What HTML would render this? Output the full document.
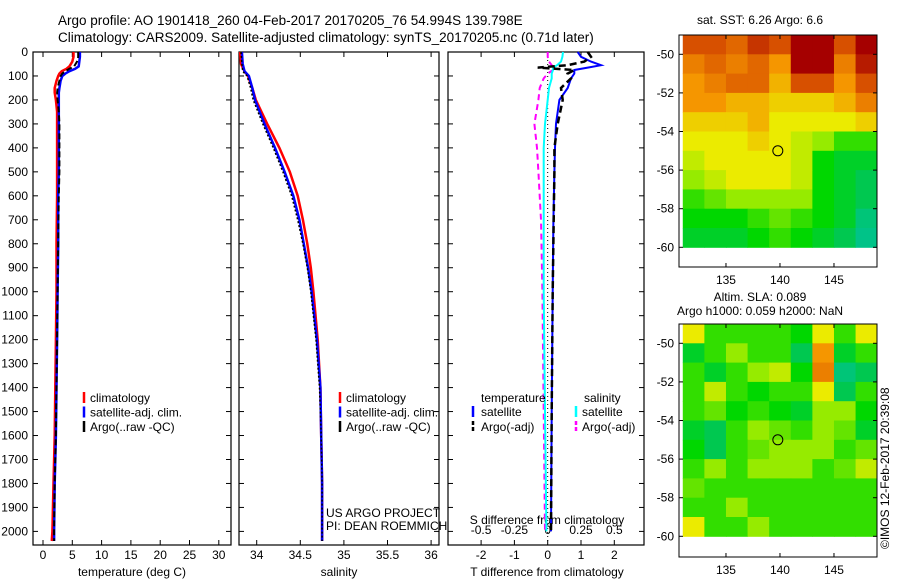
<!DOCTYPE html>
<html><head><meta charset="utf-8"><style>
body{margin:0;background:#fff}
svg{display:block;font-family:"Liberation Sans",sans-serif}
</style></head><body>
<svg id="c" width="900" height="580" xmlns="http://www.w3.org/2000/svg">
<text x="58" y="25" font-size="13.5">Argo profile: AO 1901418_260 04-Feb-2017 20170205_76 54.994S 139.798E</text>
<text x="58" y="42" font-size="13.5">Climatology: CARS2009. Satellite-adjusted climatology: synTS_20170205.nc (0.71d later)</text>
<text x="760" y="24" font-size="12" text-anchor="middle">sat. SST: 6.26 Argo: 6.6</text>
<text x="760" y="301" font-size="12" text-anchor="middle">Altim. SLA: 0.089</text>
<text x="760" y="315" font-size="12" text-anchor="middle">Argo h1000: 0.059 h2000: NaN</text>
<text transform="translate(889,549) rotate(-90)" font-size="12">©IMOS 12-Feb-2017 20:39:08</text>
</svg>
<script>
// ---- data ----
const tDepth=[0,20,40,60,70,80,90,100,120,150,170,200,250,300,400,500,600,800,1000,1200,1400,1600,1800,2000,2040];
const tClim=[5.2,5.2,5.0,4.5,4.0,3.2,2.8,2.6,2.3,2.0,2.0,2.2,2.4,2.4,2.4,2.4,2.4,2.3,2.3,2.2,2.1,2.0,1.8,1.6,1.5];
const tSat=[6.3,6.3,6.2,6.1,5.5,4.5,3.8,3.3,3.0,2.8,2.7,2.7,2.7,2.7,2.7,2.7,2.6,2.6,2.5,2.4,2.3,2.2,2.0,1.9,1.9];
const tArgo=[6.0,6.0,5.8,5.3,4.5,3.8,3.3,3.0,2.8,2.5,2.4,2.5,2.7,2.8,2.8,2.8,2.7,2.6,2.5,2.4,2.3,2.2,2.0,1.9,1.9];
const sDepth=[0,50,80,100,150,200,300,400,500,600,700,800,900,1000,1200,1400,1600,1800,2000,2040];
const sClim=[33.81,33.82,33.86,33.9,33.95,33.99,34.12,34.26,34.38,34.47,34.53,34.58,34.62,34.65,34.70,34.73,34.74,34.75,34.75,34.75];
const sSat=[33.83,33.84,33.86,33.91,33.95,33.98,34.09,34.21,34.32,34.42,34.49,34.54,34.59,34.63,34.69,34.73,34.74,34.75,34.75,34.75];
const sArgo=[33.82,33.83,33.84,33.89,33.93,33.96,34.07,34.19,34.30,34.40,34.47,34.53,34.58,34.62,34.68,34.72,34.74,34.75,34.75,34.75];
const dDepth=[0,20,40,55,65,75,90,110,150,200,300,400,500,700,1000,1500,2000];
const dTSat=[0.9,1.0,1.3,1.6,1.2,0.8,0.8,0.7,0.6,0.35,0.25,0.22,0.2,0.17,0.15,0.12,0.1];
const dTArgo=[1.2,1.3,1.1,0.6,-0.3,0.8,0.6,0.7,0.4,0.45,0.3,0.2,0.2,0.18,0.15,0.12,0.1];
const dSSat=[0.115,0.11,0.1,0.07,0.04,0.04,0.03,0.03,0.01,0.0,-0.02,-0.03,-0.03,-0.03,-0.03,-0.02,-0.01];
const dSArgo=[0.0,0.0,0.01,0.03,0.05,0.04,0.0,-0.03,-0.06,-0.07,-0.1,-0.08,-0.07,-0.05,-0.04,-0.03,-0.02];
const depthTicks=[0,100,200,300,400,500,600,700,800,900,1000,1100,1200,1300,1400,1500,1600,1700,1800,1900,2000];
const tTicks=[0,5,10,15,20,25,30];
const sTicks=[34,34.5,35,35.5,36];
const dTTicks=[-2,-1,0,1,2];
const dSTicks=[-0.5,-0.25,0,0.25,0.5];
const mapLon=[131,133,135,137,139,141,143,145,147];
const mapLat=[-49,-50,-51,-52,-53,-54,-55,-56,-57,-58,-59];
const sstVals=[
[8,8,7.5,8.5,8,9.5,9.5,8,9.5],
[7,7.5,7,7.5,6.5,9.5,9.5,7,9],
[6.5,7,7.5,7.5,6,8,8,6.5,8],
[6.5,6.5,6,6,5.5,5.5,5.5,6,7],
[5.5,5.5,5.5,6,5,5,5,5,5.5],
[5,5,5,5.5,5,4.5,4,3,3],
[4.5,5,5,5,5,4.5,2.5,2,2],
[4,4.5,5,5,5,4.5,2.5,2,1.5],
[3,3.5,4,4,4,4,2.5,2,1.5],
[2.5,2.5,2.5,3,3.5,3,2.5,2,1],
[2,2,2,2.5,3,2.5,2,1.5,0.8]];
const slaVals=[
[5,3,3,3,3,2.5,5,3,5],
[2,3,4,3,3,1.5,6.5,2,3],
[3,2,3,4,4.5,2.5,7,1,1.5],
[3,4.5,3,2.5,3,3,5,1.5,3],
[3,3.5,2.5,3,2.5,2,4,4,2.5],
[2,1.5,3,4,3.5,3,4,3.5,2],
[2.5,1.5,3,3.5,4,4,4,3,3.5],
[3,4,3,4,4,4,3,3.5,4.5],
[3.5,3,3,3,3,3,3,3,3],
[3,3,4,3,3,3,3,3,3],
[5,3,3,4,3,3,3,3,3]];
const mapLonTicks=[135,140,145];
const mapLatTicks=[-50,-52,-54,-56,-58,-60];

// ---- drawing ----
const svg=document.getElementById('c');
const NS='http://www.w3.org/2000/svg';
function mk(tag,attrs,parent){const e=document.createElementNS(NS,tag);for(const k in attrs)e.setAttribute(k,attrs[k]);(parent||svg).appendChild(e);return e;}
const top0=52,bot=545;
const yD=d=>top0+d*0.2397;
function panel(x0,x1,name){
  const g=mk('g',{});
  
  
  mk('rect',{x:x0,y:top0,width:x1-x0,height:bot-top0,fill:'none',stroke:'#000','stroke-width':1.2},g);
  depthTicks.forEach(d=>{const y=yD(d);
    mk('line',{x1:x0,x2:x0+5,y1:y,y2:y,stroke:'#000'},g);
    mk('line',{x1:x1-5,x2:x1,y1:y,y2:y,stroke:'#000'},g);});
  return g;
}
function xticks(g,ticks,fx,labelY,fmt){
  ticks.forEach(v=>{const x=fx(v);
    mk('line',{x1:x,x2:x,y1:bot-5,y2:bot,stroke:'#000'},g);
    mk('line',{x1:x,x2:x,y1:top0,y2:top0+5,stroke:'#000'},g);
    if(labelY){const t=mk('text',{x:x,y:labelY,'font-size':12,'text-anchor':'middle'},g);t.textContent=fmt?fmt(v):String(v);}
  });
}
function line(g,depths,vals,fx,color,w,dash,name){
  const pts=depths.map((d,i)=>fx(vals[i]).toFixed(1)+','+yD(d).toFixed(1)).join(' ');
  const p=mk('polyline',{points:pts,fill:'none',stroke:color,'stroke-width':w},g);
  if(dash)p.setAttribute('stroke-dasharray',dash);
  
  
}
function text(g,x,y,s,anchor,size){const t=mk('text',{x:x,y:y,'font-size':size||12,'text-anchor':anchor||'start'},g);t.textContent=s;return t;}
function legBar(g,x,y,color,dash){const l=mk('line',{x1:x,x2:x,y1:y-10,y2:y+1,stroke:color,'stroke-width':2.5},g);if(dash)l.setAttribute('stroke-dasharray',dash);}

// Panel 1 temperature
const fT=v=>43+v*5.86;
const g1=panel(33,231,'temperature-panel');
depthTicks.forEach(d=>{text(g1,28,yD(d)+4,String(d),'end')});
xticks(g1,tTicks,fT,559);
text(g1,132,576,'temperature (deg C)','middle');
line(g1,tDepth,tClim,fT,'#f00',2.5,null,'temp-climatology-line');
line(g1,tDepth,tSat,fT,'#00f',2.5,null,'temp-satellite-line');
line(g1,tDepth,tArgo,fT,'#000',2,'6,3','temp-argo-line');
[['#f00','climatology'],['#00f','satellite-adj. clim.'],['#000','Argo(..raw -QC)']].forEach((e,i)=>{const y=402+i*14.5;legBar(g1,84,y,e[0]);text(g1,90,y,e[1])});

// Panel 2 salinity
const fS=v=>256.7+(v-34)*87.2;
const g2=panel(239,439,'salinity-panel');
xticks(g2,sTicks,fS,559);
text(g2,339,576,'salinity','middle');
line(g2,sDepth,sClim,fS,'#f00',2.5,null,'sal-climatology-line');
line(g2,sDepth,sSat,fS,'#00f',2.5,null,'sal-satellite-line');
line(g2,sDepth,sArgo,fS,'#000',1.5,'2,2','sal-argo-line');
[['#f00','climatology'],['#00f','satellite-adj. clim.'],['#000','Argo(..raw -QC)']].forEach((e,i)=>{const y=402+i*14.5;legBar(g2,340,y,e[0]);text(g2,346,y,e[1])});
text(g2,326,517,'US ARGO PROJECT');
text(g2,326,530,'PI: DEAN ROEMMICH');

// Panel 3 differences
const fDT=v=>547.7+v*33.3;
const fDS=v=>547.7+v*133.3;
const g3=panel(448,644,'difference-panel');
xticks(g3,dTTicks,fDT,559);
dSTicks.forEach(v=>text(g3,fDS(v),534,String(v),'middle'));
text(g3,547,524,'S difference from climatology','middle');
text(g3,547,576,'T difference from climatology','middle');
const z=mk('line',{x1:fDT(0),x2:fDT(0),y1:yD(0),y2:yD(2040),stroke:'#000','stroke-dasharray':'1,3'},g3);
line(g3,dDepth,dSArgo,fDS,'#f0f',2,'6,4','sal-diff-argo-line');
line(g3,dDepth,dSSat,fDS,'#0ff',2,null,'sal-diff-satellite-line');
line(g3,dDepth,dTSat,fDT,'#00f',2,null,'temp-diff-satellite-line');
line(g3,dDepth,dTArgo,fDT,'#000',2.5,'7,4','temp-diff-argo-line');
text(g3,481,402,'temperature');text(g3,584,402,'salinity');
legBar(g3,473,416,'#00f');text(g3,481,416,'satellite');
legBar(g3,473,431,'#000','4,2');text(g3,481,431,'Argo(-adj)');
legBar(g3,576,416,'#0ff');text(g3,582,416,'satellite');
legBar(g3,576,431,'#f0f','4,2');text(g3,582,431,'Argo(-adj)');

// Maps
const stops=[[0,[0,190,200]],[1.5,[0,200,80]],[2.5,[0,215,0]],[4,[150,235,0]],[5,[235,235,0]],[6.5,[245,150,0]],[8,[215,80,0]],[9.5,[165,0,0]]];
function cmap(v){for(let i=1;i<stops.length;i++){if(v<=stops[i][0]){const a=stops[i-1],b=stops[i];const t=Math.max(0,(v-a[0])/(b[0]-a[0]));const c=a[1].map((x,k)=>Math.round(x+(b[1][k]-x)*t));return 'rgb('+c+')';}}return 'rgb('+stops[stops.length-1][1]+')';}
function map(top,boxBot,vals,name){
  const g=mk('g',{});
  
  
  const fx=lon=>679+(lon-130.65)*10.8;
  const fy=lat=>top+(-49.0-lat)*19.3;
  vals.forEach((row,r)=>row.forEach((v,c)=>{
    const lon=mapLon[c],lat=mapLat[r];
    const x=fx(lon),y=fy(lat);
    const w=Math.min(fx(lon+2),877)-x, h=Math.min(fy(lat-1),fy(-60.05))-y;
    const cell=mk('rect',{x:Math.max(x,679),y:Math.max(y,top),width:w+(x<679?x-679:0)+0.5,height:h+(y<top?y-top:0)+0.5,fill:cmap(v)},g);
    
    
  }));
  mk('rect',{x:679,y:top,width:198,height:boxBot-top,fill:'none',stroke:'#000'},g);
  mapLonTicks.forEach(l=>{const x=fx(l);mk('line',{x1:x,x2:x,y1:top,y2:top+4,stroke:'#000'},g);mk('line',{x1:x,x2:x,y1:boxBot-4,y2:boxBot,stroke:'#000'},g);text(g,x,boxBot+17,String(l),'middle')});
  mapLatTicks.forEach(l=>{const y=fy(l);mk('line',{x1:679,x2:683,y1:y,y2:y,stroke:'#000'},g);mk('line',{x1:873,x2:877,y1:y,y2:y,stroke:'#000'},g);text(g,674,y+4,String(l),'end')});
  const c=mk('circle',{cx:fx(139.8),cy:fy(-55),r:5,fill:'none',stroke:'#000'},g);
  
  
}
map(35,267,sstVals,'sst-map');
map(324,557,slaVals,'sla-map');
</script>
</body></html>
